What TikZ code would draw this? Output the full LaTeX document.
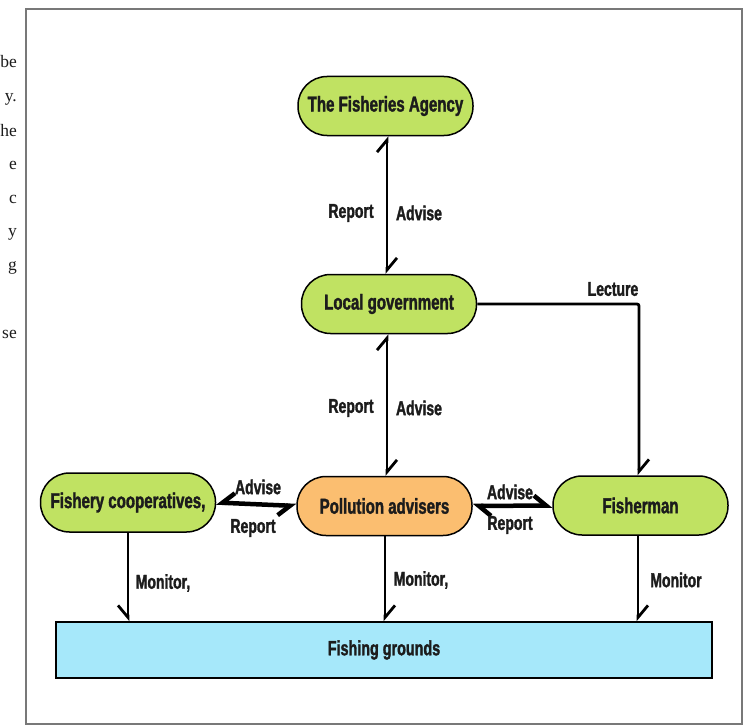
\documentclass[tikz,border=0pt]{standalone}
\usepackage{fontspec}
\setmainfont{Liberation Serif}
\newfontfamily\cond[FakeStretch=0.70,FakeBold=1.6]{Liberation Sans}
\usetikzlibrary{arrows.meta}
\definecolor{pillgreen}{RGB}{192,226,98}
\definecolor{pillorange}{RGB}{251,190,112}
\definecolor{groundblue}{RGB}{166,232,250}
\definecolor{inkdark}{RGB}{28,28,28}
\definecolor{framegray}{RGB}{120,120,120}
\tikzset{
  pill/.style={draw=black, line width=1.5pt, rounded corners=29pt, minimum width=175pt, minimum height=59pt, inner sep=0pt, font=\cond\bfseries\fontsize{21.5}{23}\selectfont, text=inkdark},
  greenpill/.style={pill, fill=pillgreen},
  orangepill/.style={pill, fill=pillorange},
  groundbox/.style={draw=black, line width=1.5pt, fill=groundblue, minimum width=656pt, minimum height=56pt, inner sep=0pt, font=\cond\bfseries\fontsize{20.5}{22}\selectfont, text=inkdark},
  lbl/.style={font=\cond\bfseries\fontsize{20}{22}\selectfont, text=inkdark, inner sep=0pt},
  margintxt/.style={font=\fontsize{17.5}{20}\selectfont, text=inkdark, inner sep=0pt, anchor=base east},
  hp/.tip={Straight Barb[harpoon, length=12pt, width=20pt]},
  hps/.tip={Straight Barb[harpoon, swap, length=12pt, width=20pt]},
  conn/.style={draw=black, line width=2.8pt},
  hconn/.style={draw=black, line width=4.5pt},
}
\begin{document}
\begin{tikzpicture}[x=1pt, y=-1pt]
\useasboundingbox (0,0) rectangle (747,725);
% frame
\draw[framegray, line width=1.4pt] (26,9) rectangle (742,724);
% margin text fragments
\node[margintxt] (m1) at (17,68) {be};
\node[margintxt] (m2) at (17,102) {y.};
\node[margintxt] (m3) at (17,136) {he};
\node[margintxt] (m4) at (17,169) {e};
\node[margintxt] (m5) at (17,203) {c};
\node[margintxt] (m6) at (17,236) {y};
\node[margintxt] (m7) at (17,270) {g};
\node[margintxt] (m8) at (17,338) {se};
% nodes
\node[greenpill] (fa) at (385.5,106) {The Fisheries Agency};
\node[greenpill] (lg) at (389,304) {Local government};
\node[greenpill] (fc) at (128,502.5) {Fishery cooperatives,};
\node[orangepill] (pa) at (384.5,506) {Pollution advisers};
\node[greenpill] (fm) at (640.5,505.5) {Fisherman};
\node[groundbox] (fg) at (384,650) {Fishing grounds};
% x positions of connectors
\coordinate (xc) at (387,0);
\coordinate (xl) at (639,0);
\coordinate (xm1) at (128,0);
\coordinate (xm2) at (385,0);
\coordinate (xm3) at (638,0);
% vertical connectors
\draw[conn, {hp}-{hp}] (xc |- fa.south) -- (xc |- lg.north);
\draw[conn, {hp}-{hp}] (xc |- lg.south) -- (xc |- pa.north);
\draw[conn, -{hp}, rounded corners=2pt] (lg.east) -- (xl |- lg.east) -- (xl |- fm.north);
\draw[conn, -{hps}] (xm1 |- fc.south) -- (xm1 |- fg.north);
\draw[conn, -{hp}] (xm2 |- pa.south) -- (xm2 |- fg.north);
\draw[conn, -{hp}] (xm3 |- fm.south) -- (xm3 |- fg.north);
% horizontal connectors
\draw[hconn, {hps}-{hps}] (fc.east) -- (pa.west);
\draw[hconn, {hp}-{hp}] (pa.east) -- (fm.west);
% labels
\node[lbl] (l1) at (351,213) {Report};
\node[lbl] (l2) at (419,213) {Advise};
\node[lbl] (l3) at (351,408) {Report};
\node[lbl] (l4) at (419,408) {Advise};
\node[lbl] (l5) at (613,289) {Lecture};
\node[lbl] (l6) at (258,487) {Advise};
\node[lbl] (l7) at (253,528) {Report};
\node[lbl] (l8) at (510,492) {Advise};
\node[lbl] (l9) at (510,525) {Report};
\node[lbl] (l10) at (163,583) {Monitor,};
\node[lbl] (l11) at (421,580) {Monitor,};
\node[lbl] (l12) at (676,580) {Monitor};
\end{tikzpicture}
\end{document}
